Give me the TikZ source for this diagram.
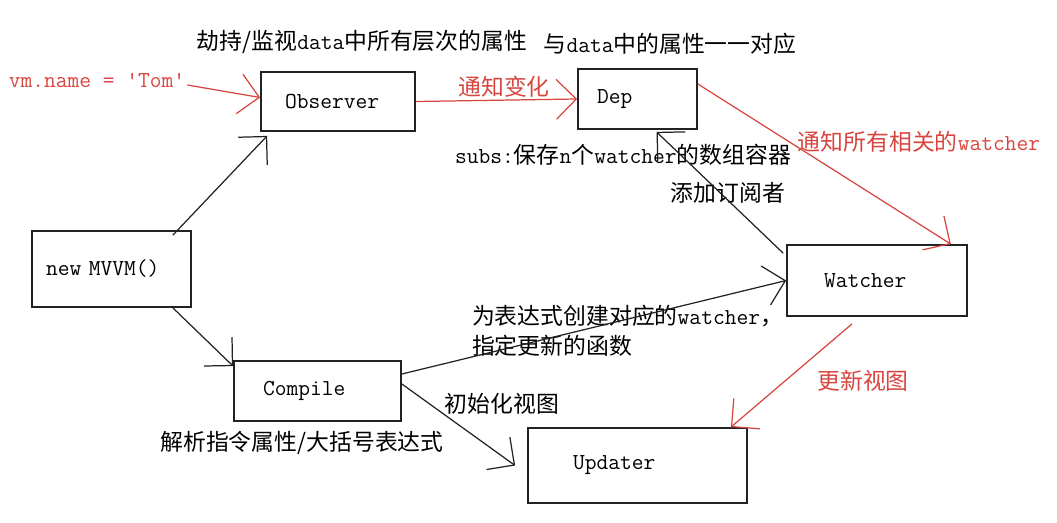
\documentclass[tikz,border=0pt]{standalone}
\usepackage{fontspec}
\newfontfamily\cjk{Noto Sans CJK SC}
\usetikzlibrary{arrows.meta}
\definecolor{cred}{HTML}{D8453F}
\definecolor{cline}{HTML}{222222}
\newcommand{\tw}[1]{{\ttfamily #1}}

\begin{document}
\begin{tikzpicture}[
  box/.style={draw=cline, line width=1pt, align=left,
              font=\ttfamily\fontsize{13}{15}\selectfont},
  note/.style={font=\cjk\fontsize{13}{17}\selectfont, inner sep=1pt},
  rnote/.style={note, text=cred},
  link/.style={draw=cline, line width=0.7pt, -{Straight Barb[length=4mm,width=8mm]}},
  rlink/.style={link, draw=cred}
]
  \useasboundingbox (0,0) rectangle (21.14,10.44);

  \node[box, text width=2.62cm, inner xsep=0.28cm, minimum height=1.52cm] (mvvm) at (2.23,5.06) {new MVVM()};
  \node[box, text width=2.12cm, inner xsep=0.48cm, minimum height=1.18cm] (obs) at (6.76,8.41) {Observer};
  \node[box, text width=1.62cm, inner xsep=0.38cm, minimum height=1.20cm] (dep) at (12.75,8.46) {Dep};
  \node[box, text width=2.12cm, inner xsep=0.74cm, minimum height=1.42cm] (watcher) at (17.54,4.83) {Watcher};
  \node[box, text width=2.18cm, inner xsep=0.58cm, minimum height=1.20cm] (compile) at (6.35,2.62) {Compile};
  \node[box, text width=2.58cm, inner xsep=0.90cm, minimum height=1.50cm] (updater) at (12.75,1.13) {Updater};

  \node[note] (hijack) at (7.24,9.60) {劫持/监视\tw{data}中所有层次的属性};
  \node[note] (match) at (13.40,9.56) {与\tw{data}中的属性一一对应};
  \node[rnote, font=\ttfamily\fontsize{13}{15}\selectfont] (vm) at (1.94,8.84) {vm.name = 'Tom'};
  \node[rnote] (notify) at (10.08,8.70) {通知变化};
  \node[note] (subs) at (12.46,7.34) {\tw{subs:}保存\tw{n}个\tw{watcher}的数组容器};
  \node[rnote] (notifyall) at (18.38,7.60) {通知所有相关的\tw{watcher}};
  \node[note] (addsub) at (14.56,6.58) {添加订阅者};
  \node[note, anchor=west, align=left] (create) at (9.40,3.83) {为表达式创建对应的\tw{watcher}，\\指定更新的函数};
  \node[note] (init) at (10.04,2.36) {初始化视图};
  \node[note] (parse) at (6.04,1.58) {解析指令属性/大括号表达式};
  \node[rnote] (update) at (17.26,2.82) {更新视图};

  \draw[link] ([xshift=-0.38cm,yshift=-0.1cm]mvvm.north east) -- ([xshift=0.14cm,yshift=-0.08cm]obs.south west);
  \draw[link] ([xshift=-0.38cm]mvvm.south east) -- ([yshift=-0.12cm]compile.north west);
  \draw[rlink] ([yshift=-0.1cm]vm.east) -- ([yshift=0.08cm]obs.west);
  \draw[rlink] (obs.east) -- (dep.west);
  \draw[rlink] ([yshift=0.3cm]dep.east) -- ([xshift=-0.34cm]watcher.north east);
  \draw[link] ([xshift=-0.06cm,yshift=-0.18cm]watcher.north west) -- ([xshift=0.38cm,yshift=-0.04cm]dep.south);
  \draw[link] ([yshift=0.34cm]compile.east) -- (watcher.west);
  \draw[link] ([yshift=0.14cm]compile.east) -- ([xshift=-0.24cm]updater.west);
  \draw[rlink] ([xshift=-0.5cm,yshift=-0.14cm]watcher.south) -- ([xshift=-0.34cm]updater.north east);
\end{tikzpicture}
\end{document}
